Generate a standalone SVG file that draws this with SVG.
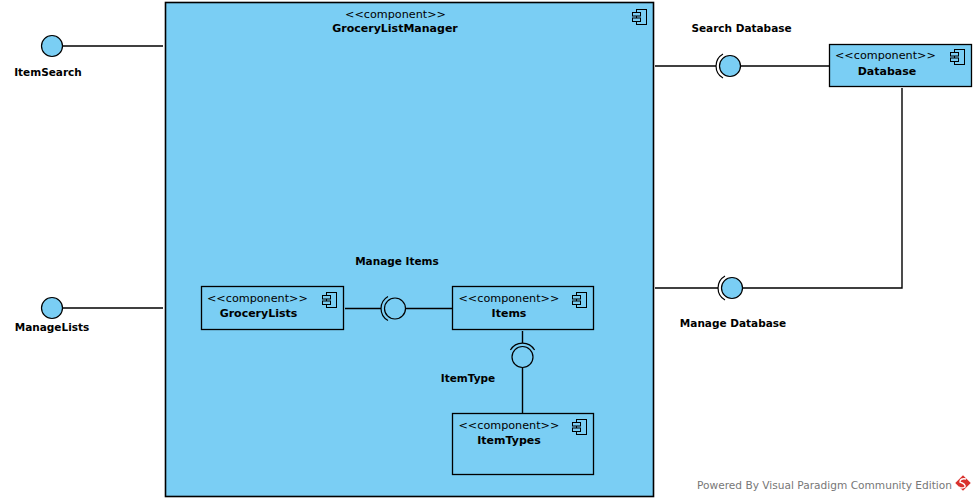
<svg xmlns="http://www.w3.org/2000/svg" xmlns:xlink="http://www.w3.org/1999/xlink" width="977" height="503" viewBox="0 0 977 503">
<defs>
<style>
.comp{fill:#7ACEF4;stroke:#000;stroke-width:1.3}
.main{fill:#7ACEF4;stroke:#000;stroke-width:1.6}
.ln{fill:none;stroke:#000;stroke-width:1.4}
.ball{fill:#7ACEF4;stroke:#000;stroke-width:1.2}
.sock{fill:none;stroke:#000;stroke-width:1.2}
.st{font-family:"DejaVu Sans",sans-serif;font-size:11.2px;fill:#000}
.nm{font-family:"DejaVu Sans",sans-serif;font-size:11px;font-weight:bold;fill:#000;text-anchor:middle}
.lb{font-family:"DejaVu Sans",sans-serif;font-size:10.5px;font-weight:bold;fill:#000;text-anchor:middle}
.pw{font-family:"DejaVu Sans",sans-serif;font-size:11px;fill:#777}
</style>
<g id="icon" fill="#7ACEF4" stroke="#000" stroke-width="1">
<rect x="4.5" y="0.5" width="10" height="15"/>
<rect x="0.5" y="3.5" width="8" height="3.5"/>
<rect x="0.5" y="9" width="8" height="3.5"/>
</g>
</defs>
<rect width="977" height="503" fill="#fff"/>

<g id="GroceryListManager">
<rect class="main" x="165.5" y="2.5" width="488" height="494"/>
<use xlink:href="#icon" x="632" y="9"/>
<text class="st" x="395.5" y="18" text-anchor="middle">&lt;&lt;component&gt;&gt;</text>
<text class="nm" x="395" y="32">GroceryListManager</text>
</g>

<g id="connectors">
<line class="ln" x1="62.5" y1="46" x2="163" y2="46"/>
<line class="ln" x1="62.5" y1="308" x2="163" y2="308"/>
<line class="ln" x1="655" y1="66" x2="716" y2="66"/>
<line class="ln" x1="740.5" y1="66" x2="829" y2="66"/>
<line class="ln" x1="655" y1="288" x2="718" y2="288"/>
<polyline class="ln" points="742.5,288 902,288 902,88"/>
<line class="ln" x1="345" y1="308.5" x2="381" y2="308.5"/>
<line class="ln" x1="406" y1="308.5" x2="452" y2="308.5"/>
<line class="ln" x1="522.5" y1="331" x2="522.5" y2="343"/>
<line class="ln" x1="522.5" y1="367.5" x2="522.5" y2="413"/>
</g>

<g id="ItemSearch">
<circle class="ball" cx="52" cy="46" r="10.5"/>
<text class="lb" x="48" y="76">ItemSearch</text>
</g>

<g id="ManageLists">
<circle class="ball" cx="52" cy="308" r="10.5"/>
<text class="lb" x="52" y="331">ManageLists</text>
</g>

<g id="SearchDatabase">
<path class="sock" d="M723,53.9 A14,14 0 0 0 723,78.1"/>
<circle class="ball" cx="730" cy="66" r="10.5"/>
<text class="lb" x="741.5" y="32">Search Database</text>
</g>

<g id="ManageDatabase">
<path class="sock" d="M725,275.9 A14,14 0 0 0 725,300.1"/>
<circle class="ball" cx="732" cy="288" r="10.5"/>
<text class="lb" x="733" y="327">Manage Database</text>
</g>

<g id="Database">
<rect class="comp" x="829.5" y="44.5" width="142" height="42"/>
<use xlink:href="#icon" x="950" y="49"/>
<text class="st" x="835" y="59">&lt;&lt;component&gt;&gt;</text>
<text class="nm" x="887" y="75">Database</text>
</g>

<g id="ManageItems">
<path class="sock" d="M388,296.4 A14,14 0 0 0 388,320.6"/>
<circle class="ball" cx="395" cy="308.5" r="10.5"/>
<text class="lb" x="397" y="265">Manage Items</text>
</g>

<g id="ItemType">
<path class="sock" d="M510.4,350 A14,14 0 0 1 534.6,350"/>
<circle class="ball" cx="522.5" cy="357" r="10.5"/>
<text class="lb" x="468" y="382">ItemType</text>
</g>

<g id="GroceryLists">
<rect class="comp" x="201.5" y="286.5" width="142" height="43"/>
<use xlink:href="#icon" x="322" y="292"/>
<text class="st" x="207" y="302">&lt;&lt;component&gt;&gt;</text>
<text class="nm" x="258.5" y="317">GroceryLists</text>
</g>

<g id="Items">
<rect class="comp" x="452.5" y="286.5" width="141" height="43"/>
<use xlink:href="#icon" x="572" y="292"/>
<text class="st" x="458.5" y="302">&lt;&lt;component&gt;&gt;</text>
<text class="nm" x="509" y="317">Items</text>
</g>

<g id="ItemTypes">
<rect class="comp" x="452.5" y="413.5" width="141" height="61"/>
<use xlink:href="#icon" x="572" y="419"/>
<text class="st" x="458.5" y="429">&lt;&lt;component&gt;&gt;</text>
<text class="nm" x="509" y="444">ItemTypes</text>
</g>

<g id="watermark">
<text class="pw" x="697" y="489" textLength="255" lengthAdjust="spacingAndGlyphs">Powered By Visual Paradigm Community Edition</text>
<rect x="957.5" y="477.5" width="11" height="11" fill="#D9322E" transform="rotate(45 963 483)"/>
<path d="M966,479 Q960,478 960,482 Q966,484 965,487 Q962,489 959,487" fill="none" stroke="#fff" stroke-width="1.4"/>
</g>
</svg>
